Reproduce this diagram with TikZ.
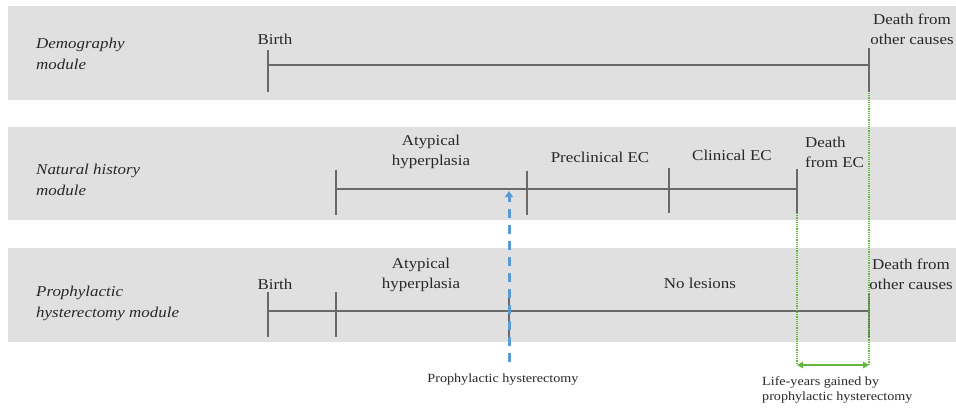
\documentclass[tikz,border=0pt]{standalone}
\usepackage{fontspec}
\setmainfont[FakeStretch=1.13]{Liberation Serif}
\usetikzlibrary{arrows.meta}
\definecolor{bandgray}{RGB}{224,224,224}
\definecolor{linegray}{RGB}{105,105,105}
\definecolor{txt}{RGB}{40,40,40}
\definecolor{hblue}{RGB}{91,155,213}
\definecolor{lgreen}{RGB}{100,185,60}
\tikzset{
  band/.style={fill=bandgray, draw=none},
  tl/.style={draw=linegray, line width=1.3pt},
  lbl/.style={text=txt, font=\fontsize{15}{20}\selectfont, inner sep=0pt, align=center},
  modlbl/.style={text=txt, font=\fontsize{15}{21}\selectfont\itshape, inner sep=0pt, align=left, anchor=west},
  smalllbl/.style={text=txt, font=\fontsize{12.5}{15}\selectfont, inner sep=0pt},
  gdot/.style={draw=lgreen, line width=1.4pt, dash pattern=on 1.2pt off 1pt},
}
\begin{document}
\begin{tikzpicture}[x=1pt,y=-1pt]
\useasboundingbox (0,0) rectangle (956,409);
\fill[white] (0,0) rectangle (956,409);
% bands
\fill[band] (8,6) rectangle (956,100);
\fill[band] (8,127) rectangle (956,220);
\fill[band] (8,248) rectangle (956,342);

% module labels
\node[modlbl] (mdemo) at (36,54) {Demography\\module};
\node[modlbl] (mnat) at (36,180) {Natural history\\module};
\node[modlbl] (mpro) at (36,303) {Prophylactic\\hysterectomy module};

% demography timeline
\coordinate (d1) at (268,65);
\coordinate (d2) at (869,65);
\draw[tl] (268,50) -- (268,92);
\draw[tl] (869,48) -- (869,92);
\draw[tl] (d1) -- (d2);
\node[lbl] (dbirth) at (275,39) {Birth};
\node[lbl] (ddeath) at (912,29) {Death from\\other causes};

% natural history timeline
\coordinate (n1) at (336,189);
\coordinate (n4) at (797,189);
\draw[tl] (336,170) -- (336,215);
\draw[tl] (527,171) -- (527,215);
\draw[tl] (669,168) -- (669,213);
\draw[tl] (797,169) -- (797,213);
\draw[tl] (n1) -- (n4);
\node[lbl] (natyp) at (431,152) {Atypical\\hyperplasia};
\node[lbl] (npre) at (600,157) {Preclinical EC};
\node[lbl] (nclin) at (732,155) {Clinical EC};
\node[lbl, align=left, anchor=west] (ndeath) at (805,152) {Death\\from EC};

% prophylactic timeline
\coordinate (p1) at (268,311);
\coordinate (p4) at (869,311);
\draw[tl] (268,292) -- (268,337);
\draw[tl] (336,292) -- (336,337);
\draw[tl] (509,295) -- (509,338);
\draw[tl] (869,293) -- (869,337);
\draw[tl] (p1) -- (p4);
\node[lbl] (pbirth) at (275,284) {Birth};
\node[lbl] (patyp) at (421,275) {Atypical\\hyperplasia};
\node[lbl] (pnol) at (700,283) {No lesions};
\node[lbl] (pdeath) at (911,274) {Death from\\other causes};

% green dotted guides and arrow
\coordinate (g1top) at (797,213);
\coordinate (g1bot) at (797,364);
\coordinate (g2top) at (869,93);
\coordinate (g2bot) at (869,364);
\coordinate (ga) at (797,365);
\coordinate (gb) at (869,365);
\draw[gdot] (g1top) -- (g1bot);
\draw[gdot] (g2top) -- (g2bot);
\draw[lgreen, line width=2pt, {Triangle[length=6pt,width=6.5pt]}-{Triangle[length=6pt,width=6.5pt]}] (ga) -- (gb);

% blue dashed arrow
\coordinate (bbot) at (509,362);
\coordinate (btop) at (509,191);
\draw[hblue, line width=3pt, dash pattern=on 9pt off 7pt, -{Triangle[length=6pt,width=8pt]}] (bbot) -- (btop);

\node[smalllbl] (hlbl) at (503,380) {Prophylactic hysterectomy};
\node[smalllbl, align=left, anchor=west] (glbl) at (762,390) {Life-years gained by\\prophylactic hysterectomy};
\end{tikzpicture}
\end{document}
